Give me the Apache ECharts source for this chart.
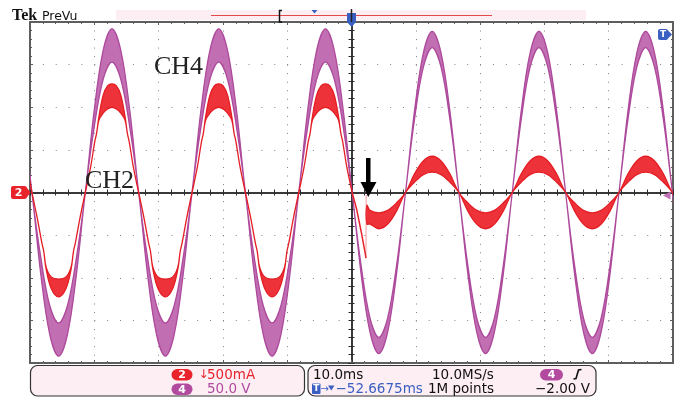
<!DOCTYPE html>
<html>
<head>
<meta charset="utf-8">
<title>Tek PreVu - CH2 / CH4</title>
<script src="https://cdn.jsdelivr.net/npm/echarts@6.0.0/dist/echarts.min.js"></script>
<style>
  html, body { margin: 0; padding: 0; background: #fff; }
  #chart { width: 680px; height: 397px; }
</style>
</head>
<body>
<div id="chart"></div>
<script>
/* ── values: time in ms (trigger = 0), level in divisions ── */

// CH4 voltage, 50 V/div : band of traces (upper / lower edge)
const ch4T = [-51.08, -49.70, -48.32, -46.93, -45.55, -44.17, -42.78, -41.40, -40.02, -38.63, -37.25, -35.87, -34.48,
  -33.10, -31.72, -30.33, -28.95, -27.57, -26.18, -24.80, -23.42, -22.03, -20.65, -19.27, -17.88, -16.50, -15.12,
  -13.73, -12.35, -10.97, -9.58, -8.20, -6.82, -5.43, -4.05, -2.67, -1.28, 0.10, 1.48, 2.87, 4.25, 5.63, 7.02, 8.40,
  9.78, 11.17, 12.55, 13.93, 15.32, 16.70, 18.08, 19.47, 20.85, 22.23, 23.62, 25.00, 26.38, 27.77, 29.15, 30.53,
  31.92, 33.30, 34.68, 36.07, 37.45, 38.83, 40.22, 41.60, 42.98, 44.37, 45.75, 47.13, 48.52, 49.90, 51.28];
const ch4Upper = [1.92, 0, -1.53, -2.65, -3.06, -2.65, -1.53, 0, 1.92, 3.33, 3.84, 3.33, 1.92,
  0, -1.53, -2.65, -3.06, -2.65, -1.53, 0, 1.92, 3.33, 3.84, 3.33, 1.92,
  0, -1.53, -2.65, -3.06, -2.65, -1.53, 0, 1.92, 3.33, 3.84, 3.33, 1.92,
  0, -1.70, -2.94, -3.40, -2.94, -1.70, 0, 1.89, 3.27, 3.78, 3.27, 1.89,
  0, -1.70, -2.94, -3.40, -2.94, -1.70, 0, 1.89, 3.27, 3.78, 3.27, 1.89,
  0, -1.70, -2.94, -3.40, -2.94, -1.70, 0, 1.89, 3.27, 3.78, 3.27, 1.89,
  0, -1.70];
const ch4Lower = [1.53, 0, -1.92, -3.33, -3.84, -3.33, -1.92, 0, 1.53, 2.65, 3.06, 2.65, 1.53,
  0, -1.92, -3.33, -3.84, -3.33, -1.92, 0, 1.53, 2.65, 3.06, 2.65, 1.53,
  0, -1.92, -3.33, -3.84, -3.33, -1.92, 0, 1.53, 2.65, 3.06, 2.65, 1.53,
  0, -1.89, -3.27, -3.78, -3.27, -1.89, 0, 1.70, 2.94, 3.40, 2.94, 1.70,
  0, -1.89, -3.27, -3.78, -3.27, -1.89, 0, 1.70, 2.94, 3.40, 2.94, 1.70,
  0, -1.89, -3.27, -3.78, -3.27, -1.89, 0, 1.70, 2.94, 3.40, 2.94, 1.70,
  0, -1.89];

// CH2 current, 500 mA/div : before the step (distorted, large)
const ch2LeftT = [-50.44,
  -49.70, -48.87, -48.13, -47.86, -47.49, -46.70, -45.55, -44.40, -43.61, -43.24, -42.97, -42.23,
  -41.40, -40.57, -39.92, -39.65, -39.28, -38.63, -37.94, -37.25, -36.56, -35.87, -35.22, -34.85, -34.58, -33.93,
  -33.10, -32.27, -31.53, -31.26, -30.89, -30.10, -28.95, -27.80, -27.01, -26.64, -26.37, -25.63,
  -24.80, -23.97, -23.32, -23.05, -22.68, -22.03, -21.34, -20.65, -19.96, -19.27, -18.62, -18.25, -17.98, -17.33,
  -16.50, -15.67, -14.93, -14.66, -14.29, -13.50, -12.35, -11.20, -10.41, -10.04, -9.77, -9.03,
  -8.20, -7.37, -6.72, -6.45, -6.08, -5.43, -4.74, -4.05, -3.36, -2.67, -2.02, -1.65, -1.38, -0.73,
  0.10];
const ch2LeftUpper = [0.60,
  0, -0.60, -1.20, -1.38, -1.75, -1.98, -2.03, -1.98, -1.75, -1.38, -1.20, -0.60,
  0, 0.60, 1.20, 1.38, 1.78, 2.28, 2.50, 2.55, 2.50, 2.28, 1.78, 1.38, 1.20, 0.60,
  0, -0.60, -1.20, -1.38, -1.75, -1.98, -2.03, -1.98, -1.75, -1.38, -1.20, -0.60,
  0, 0.60, 1.20, 1.38, 1.78, 2.28, 2.50, 2.55, 2.50, 2.28, 1.78, 1.38, 1.20, 0.60,
  0, -0.60, -1.20, -1.38, -1.75, -1.98, -2.03, -1.98, -1.75, -1.38, -1.20, -0.60,
  0, 0.60, 1.20, 1.38, 1.78, 2.28, 2.50, 2.55, 2.50, 2.28, 1.78, 1.38, 1.20, 0.60,
  0];
const ch2LeftLower = [0.60,
  0, -0.60, -1.20, -1.38, -1.80, -2.25, -2.45, -2.25, -1.80, -1.38, -1.20, -0.60,
  0, 0.60, 1.20, 1.38, 1.70, 1.86, 1.96, 2.00, 1.96, 1.86, 1.70, 1.38, 1.20, 0.60,
  0, -0.60, -1.20, -1.38, -1.80, -2.25, -2.45, -2.25, -1.80, -1.38, -1.20, -0.60,
  0, 0.60, 1.20, 1.38, 1.70, 1.86, 1.96, 2.00, 1.96, 1.86, 1.70, 1.38, 1.20, 0.60,
  0, -0.60, -1.20, -1.38, -1.80, -2.25, -2.45, -2.25, -1.80, -1.38, -1.20, -0.60,
  0, 0.60, 1.20, 1.38, 1.70, 1.86, 1.96, 2.00, 1.96, 1.86, 1.70, 1.38, 1.20, 0.60,
  0];

// CH2 at the step (arrow)
const ch2StepT = [0.10, 0.81, 1.59, 2.10, 2.25];
const ch2StepV = [0, -0.40, -0.98, -1.40, -1.54];
const ch2JumpT = [2.25, 2.28];
const ch2JumpV = [-1.54, -0.06];

// CH2 after the step (small sine band)
const ch2RightT = [2.40, 2.87, 4.25, 5.63, 7.02, 8.40, 9.78, 11.17, 12.55, 13.93, 15.32, 16.70, 18.08, 19.47,
  20.85, 22.23, 23.62, 25.00, 26.38, 27.77, 29.15, 30.53, 31.92, 33.30, 34.68, 36.07, 37.45, 38.83, 40.22,
  41.60, 42.98, 44.37, 45.75, 47.13, 48.52, 49.90, 51.28];
const ch2RightUpper = [-0.30, -0.42, -0.48, -0.42, -0.24, 0, 0.43, 0.74, 0.85, 0.74, 0.43, 0,
  -0.24, -0.42, -0.48, -0.42, -0.24, 0, 0.43, 0.74, 0.85, 0.74, 0.43, 0,
  -0.24, -0.42, -0.48, -0.42, -0.24, 0, 0.43, 0.74, 0.85, 0.74, 0.43, 0, -0.24];
const ch2RightLower = [-0.74, -0.74, -0.85, -0.74, -0.43, 0, 0.24, 0.42, 0.48, 0.42, 0.24, 0,
  -0.43, -0.74, -0.85, -0.74, -0.43, 0, 0.24, 0.42, 0.48, 0.42, 0.24, 0,
  -0.43, -0.74, -0.85, -0.74, -0.43, 0, 0.24, 0.42, 0.48, 0.42, 0.24, 0, -0.43];

/* ── colours ── */
const edge = '#5e5e5e';
const cross = '#2c2c2c';
const dots = '#808080';
const purple = '#b24b9f';
const red = '#e8232b';
const blue = '#3a5fc2';
const panelFill = '#fdeef4';
const DV = '"DejaVu Sans", sans-serif';
const SERIF = '"Liberation Serif", serif';

const zip = (ts, vs) => ts.map((t, i) => [t, vs[i]]);

// a band of overlapping traces: upper edge forward, lower edge back
function band(ts, upper, lower, fill, stroke) {
  return function (params, api) {
    const pts = [];
    for (let i = 0; i < ts.length; i++) pts.push(api.coord([ts[i], upper[i]]));
    for (let i = ts.length - 1; i >= 0; i--) pts.push(api.coord([ts[i], lower[i]]));
    return {
      type: 'polygon',
      shape: { points: pts, smooth: 0.35 },
      style: { fill: fill, stroke: stroke, lineWidth: 1.3 }
    };
  };
}

/* ── graticule: border axes + centre cross ── */
function borderX(pos) {
  return {
    type: 'value', min: -50, max: 50, interval: 10, position: pos,
    axisLabel: { show: false },
    axisLine: { show: true, onZero: false, lineStyle: { color: edge, width: 2 } },
    axisTick: { show: true, inside: true, length: 3, lineStyle: { color: edge } },
    minorTick: { show: true, splitNumber: 5, length: 2, lineStyle: { color: edge } },
    splitLine: { show: pos === 'bottom', lineStyle: { color: dots, width: 1, type: [1, 7.53] } }
  };
}
function centreX(inside) {
  return {
    type: 'value', min: -50, max: 50, interval: 10, position: 'bottom',
    axisLabel: { show: false },
    axisLine: { show: true, onZero: true, onZeroAxisIndex: 0, lineStyle: { color: cross, width: 1.5 } },
    axisTick: { show: true, inside: inside, length: 3, lineStyle: { color: cross } },
    minorTick: { show: true, splitNumber: 5, length: 3, lineStyle: { color: cross } },
    splitLine: { show: false }
  };
}
function borderY(pos) {
  return {
    type: 'value', min: -4, max: 4, interval: 1, position: pos,
    axisLabel: { show: false },
    axisLine: { show: true, onZero: false, lineStyle: { color: edge, width: 2 } },
    axisTick: { show: true, inside: true, length: 3, lineStyle: { color: edge } },
    minorTick: { show: true, splitNumber: 5, length: 2, lineStyle: { color: edge } },
    splitLine: { show: pos === 'left', lineStyle: { color: dots, width: 1, type: [1, 11.86] } }
  };
}
function centreY(inside) {
  return {
    type: 'value', min: -4, max: 4, interval: 1, position: 'left',
    axisLabel: { show: false },
    axisLine: { show: true, onZero: true, onZeroAxisIndex: 0, lineStyle: { color: cross, width: 1.5 } },
    axisTick: { show: true, inside: inside, length: 3, lineStyle: { color: cross } },
    minorTick: { show: true, splitNumber: 5, length: 3, lineStyle: { color: cross } },
    splitLine: { show: false }
  };
}

function txt(x, y, text, size, fill, family, weight) {
  return {
    type: 'text', x: x, y: y, z: 100,
    style: {
      text: text, fill: fill,
      font: (weight || 'normal') + ' ' + size + 'px ' + (family || DV),
      verticalAlign: 'middle', textVerticalAlign: 'middle'
    }
  };
}
function pill(x, y, w, h, fill, label) {
  return [
    { type: 'rect', z: 100, shape: { x: x, y: y, width: w, height: h, r: h / 2 }, style: { fill: fill } },
    {
      type: 'text', z: 101, x: x + w / 2, y: y + h / 2 + 0.5,
      style: { text: label, fill: '#fff', font: 'bold 11px ' + DV, align: 'center', textAlign: 'center',
        verticalAlign: 'middle', textVerticalAlign: 'middle' }
    }
  ];
}

const chart = echarts.init(document.getElementById('chart'));

chart.setOption({
  animation: false,
  backgroundColor: '#fff',
  grid: { left: 30, right: 7, top: 22, bottom: 34 },
  xAxis: [borderX('bottom'), borderX('top'), centreX(true), centreX(false)],
  yAxis: [borderY('left'), borderY('right'), centreY(true), centreY(false)],
  series: [
    {
      name: 'CH4', type: 'custom', clip: true, silent: true,
      data: [[0, 0]],
      renderItem: band(ch4T, ch4Upper, ch4Lower, 'rgba(184,86,166,0.86)', '#ad4a9c')
    },
    {
      name: 'CH2', type: 'custom', clip: true, silent: true,
      data: [[0, 0]],
      renderItem: band(ch2LeftT, ch2LeftUpper, ch2LeftLower, 'rgba(236,34,40,0.92)', '#e41d24')
    },
    {
      name: 'CH2 step', type: 'line', showSymbol: false, silent: true,
      data: zip(ch2StepT, ch2StepV),
      lineStyle: { color: red, width: 1.5 }
    },
    {
      name: 'CH2 jump', type: 'line', showSymbol: false, silent: true,
      data: zip(ch2JumpT, ch2JumpV),
      lineStyle: { color: 'rgba(236,60,70,0.5)', width: 1 }
    },
    {
      name: 'CH2 after', type: 'custom', clip: true, silent: true,
      data: [[0, 0]],
      renderItem: band(ch2RightT, ch2RightUpper, ch2RightLower, 'rgba(236,34,40,0.92)', '#e41d24')
    }
  ],
  graphic: [
    // top status line
    txt(12, 16, 'Tek', 16, '#111', SERIF, 'bold'),
    txt(42, 16.5, 'PreVu', 12.5, '#111'),
    { type: 'rect', z: 90, shape: { x: 116, y: 10, width: 470, height: 10 }, style: { fill: panelFill } },
    { type: 'line', z: 91, shape: { x1: 211, y1: 15.5, x2: 492, y2: 15.5 }, style: { stroke: '#e24a4a', lineWidth: 1 } },
    { type: 'polyline', z: 92, shape: { points: [[282, 10.5], [279.5, 10.5], [279.5, 22], [282, 22]] }, style: { stroke: '#111', lineWidth: 1.5, fill: null } },
    { type: 'polygon', z: 92, shape: { points: [[311.5, 10], [317.5, 10], [314.5, 13.5]] }, style: { fill: blue } },
    // trigger position marker
    { type: 'polygon', z: 95, shape: { points: [[347, 13], [356, 13], [356, 22], [351.5, 27], [347, 22]] }, style: { fill: blue } },
    { type: 'line', z: 96, shape: { x1: 351.5, y1: 9, x2: 351.5, y2: 22 }, style: { stroke: '#222', lineWidth: 1.5 } },
    // T marker at right
    { type: 'rect', z: 95, shape: { x: 658, y: 29, width: 10, height: 11, r: 2 }, style: { fill: blue } },
    { type: 'polygon', z: 95, shape: { points: [[667.5, 30], [672, 34.5], [667.5, 39]] }, style: { fill: blue } },
    {
      type: 'text', z: 96, x: 663, y: 35,
      style: { text: 'T', fill: '#fff', font: 'bold 9px ' + DV, align: 'center', textAlign: 'center', verticalAlign: 'middle', textVerticalAlign: 'middle' }
    },
    // CH2 ground marker
    { type: 'rect', z: 95, shape: { x: 11, y: 186, width: 15.5, height: 13, r: 2 }, style: { fill: red } },
    { type: 'polygon', z: 95, shape: { points: [[26, 186.5], [30.5, 192.5], [26, 198.5]] }, style: { fill: red } },
    {
      type: 'text', z: 96, x: 18.5, y: 193,
      style: { text: '2', fill: '#fff', font: 'bold 11px ' + DV, align: 'center', textAlign: 'center', verticalAlign: 'middle', textVerticalAlign: 'middle' }
    },
    // trigger level marker
    { type: 'polygon', z: 95, shape: { points: [[663, 195.5], [670.5, 191.5], [670.5, 199.5]] }, style: { fill: '#c070b4' } },
    // channel labels
    txt(154, 67, 'CH4', 26, '#222', SERIF),
    txt(85, 181, 'CH2', 26, '#222', SERIF),
    // arrow at the step
    { type: 'rect', z: 97, shape: { x: 366, y: 158, width: 4.5, height: 25 }, style: { fill: '#000' } },
    { type: 'polygon', z: 97, shape: { points: [[360.5, 182], [376.5, 182], [368.25, 197]] }, style: { fill: '#000' } },
    // bottom readouts
    { type: 'rect', z: 90, shape: { x: 30.5, y: 365.5, width: 274, height: 30.5, r: 7 }, style: { fill: panelFill, stroke: '#333', lineWidth: 1.2 } },
    { type: 'rect', z: 90, shape: { x: 308, y: 365.5, width: 288, height: 30.5, r: 7 }, style: { fill: panelFill, stroke: '#333', lineWidth: 1.2 } },
    ...pill(171.5, 369, 21, 11.5, red, '2'),
    txt(198.5, 375, '\u2193', 12, red),
    txt(207, 375, '500mA', 13.5, red),
    ...pill(171.5, 383.5, 21, 11.5, purple, '4'),
    txt(207, 389.5, '50.0 V', 13.5, purple),
    txt(313, 375, '10.0ms', 13.5, '#111'),
    txt(432, 375, '10.0MS/s', 13.5, '#111'),
    ...pill(540, 369, 23, 11.5, purple, '4'),
    { type: 'polyline', z: 100, shape: { points: [[573.5, 379], [576, 378.5], [578.5, 370], [581.5, 369.5]] }, style: { stroke: '#111', lineWidth: 1.6, fill: null } },
    { type: 'rect', z: 100, shape: { x: 312, y: 383.5, width: 8.5, height: 10.5, r: 1 }, style: { fill: blue } },
    {
      type: 'text', z: 101, x: 316.25, y: 389,
      style: { text: 'T', fill: '#fff', font: 'bold 9px ' + DV, align: 'center', textAlign: 'center', verticalAlign: 'middle', textVerticalAlign: 'middle' }
    },
    txt(320.5, 389, '\u2192', 10, blue),
    { type: 'polygon', z: 100, shape: { points: [[328, 385.5], [334.5, 385.5], [331.25, 390.5]] }, style: { fill: blue } },
    txt(335.5, 389.5, '\u221252.6675ms', 13.5, blue),
    txt(428, 389.5, '1M points', 13.5, '#111'),
    txt(535, 389.5, '\u22122.00 V', 13.5, '#111')
  ]
});
</script>
</body>
</html>
